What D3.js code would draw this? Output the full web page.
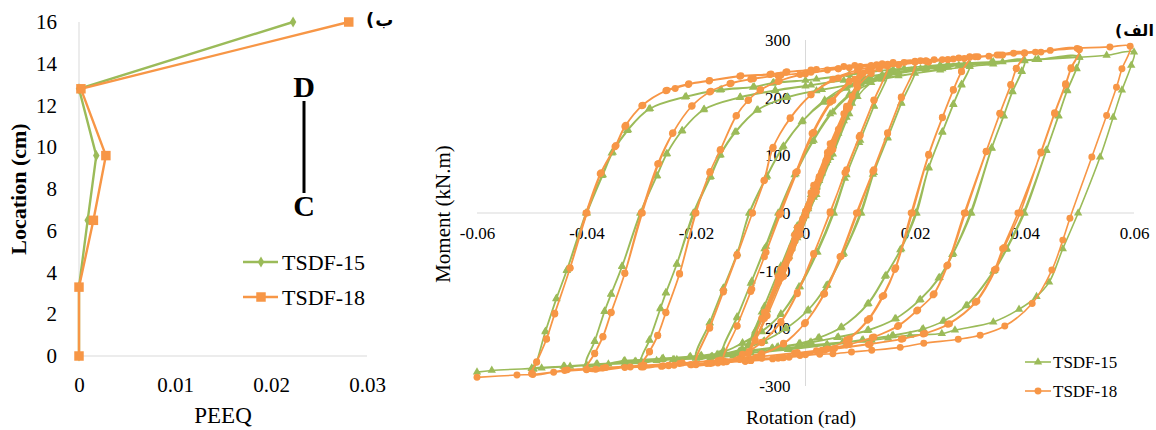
<!DOCTYPE html>
<html>
<head>
<meta charset="utf-8">
<title>PEEQ and hysteresis</title>
<style>
body { margin: 0; background: #fff; }
#chart { display: block; font-family: "Liberation Serif", "DejaVu Serif", "Times New Roman", serif; }
#chart text { font-family: "Liberation Serif", "DejaVu Serif", "Times New Roman", serif; fill: #000; }
.axisline { stroke: #d9d9d9; stroke-width: 1px; }
#chart text.arabic { font-family: "DejaVu Sans", sans-serif; font-weight: bold; }
</style>
</head>
<body>
<script src="https://cdn.jsdelivr.net/npm/d3@7"></script>
<svg id="chart" width="1156" height="430"></svg>
<script>
// ---- left panel: PEEQ along the link ----
const peeqLocation = [16, 12.8, 9.6, 6.5, 3.3, 0];
const peeq15 = [0.0223, 0, 0.0018, 0.0009, 0, 0];
const peeq18 = [0.0281, 0.0002, 0.0028, 0.0015, 0, 0];
const peeqTicks = [0, 0.01, 0.02, 0.03];
const peeqTickLabels = ['0', '0.01', '0.02', '0.03'];
const locationTicks = [0, 2, 4, 6, 8, 10, 12, 14, 16];

// ---- right panel: moment-rotation hysteresis ----
const rotTicks = [-0.06, -0.04, -0.02, 0, 0.02, 0.04, 0.06];
const rotTickLabels = ['-0.06', '-0.04', '-0.02', '0', '0.02', '0.04', '0.06'];
const momentTicks = [-300, -200, -100, 0, 100, 200, 300];
const momentTickLabels = ['-300', '-200', '-100', '0', '100', '200', '300'];
const seriesNames = ['TSDF-15', 'TSDF-18'];

// TSDF-15 [rotation (rad), moment (kN.m)]
const hyst15 = [
[0,0],[0.002,46],[0.00375,87],[0.002,44],[0,-3],[-0.002,-48],[-0.00375,-88],[-0.002,-45],[0,2],[0.002,47],[0.00375,88],[0.0015,34],[-0.001,-25],[-0.00375,-87],[-0.0015,-35],[0.0005,11],
[0.0025,60],[0.005,116],[0.0025,56],[0,-5],[-0.0025,-61],[-0.005,-115],[-0.0025,-57],[0,4],[0.0025,61],[0.005,117],[0.002,47],[-0.001,-26],[-0.005,-116],[-0.002,-46],[0.001,24],
[0.004,94],[0.0075,172],[0.0045,101],[0.0015,30],[-0.0015,-39],[-0.0045,-108],[-0.0075,-172],[-0.0045,-100],[-0.0015,-31],[0.0015,38],[0.0045,106],[0.0075,173],[0.004,91],[0.0005,7],[-0.003,-75],[-0.0075,-173],[-0.004,-93],[-0.0005,-9],
[0.003,69],[0.006,138],[0.0085,190],[0.01,224],[0.0075,166],[0.0045,96],[0.0015,27],[-0.0015,-43],[-0.0045,-110],[-0.0075,-172],[-0.0092,-205],[-0.0103,-226],[-0.0075,-162],[-0.0045,-92],[-0.0015,-22],[0.0015,46],[0.0045,113],[0.0075,174],[0.0093,208],[0.0105,230],[0.008,172],[0.005,102],[0.002,32],[-0.001,-38],[-0.004,-106],[-0.007,-168],[-0.0092,-208],[-0.0105,-230],[-0.008,-172],[-0.005,-103],[-0.002,-35],
[0.001,32],[0.004,98],[0.007,160],[0.0095,202],[0.012,226],[0.015,242],
[0.0125,185],[0.01,126],[0.0075,66],[0.0052,0],[0.0022,-68],[-0.001,-128],[-0.0045,-176],[-0.008,-206],[-0.0115,-226],[-0.015,-238],
[-0.0125,-180],[-0.01,-122],[-0.0075,-62],[-0.005,0],[-0.002,66],[0.0012,124],[0.0045,172],[0.008,206],[0.0115,228],[0.015,243],
[0.0125,186],[0.0098,122],[0.0072,60],[0.005,0],[0.002,-68],[-0.0012,-128],[-0.0045,-175],[-0.008,-205],[-0.0115,-225],[-0.015,-239],
[-0.0125,-182],[-0.0098,-118],[-0.0072,-58],[-0.0048,0],[-0.0018,68],[0.0015,126],[0.005,175],[0.009,210],[0.0135,232],[0.017,243],[0.02,250],
[0.0175,190],[0.015,130],[0.0125,70],[0.0102,0],[0.007,-70],[0.004,-125],[0.0005,-168],[-0.0035,-200],[-0.0075,-222],[-0.0115,-236],[-0.0155,-245],[-0.02,-251],
[-0.0175,-190],[-0.015,-130],[-0.0125,-70],[-0.0102,0],[-0.007,64],[-0.004,116],[-0.0005,160],[0.0035,196],[0.0075,220],[0.0115,235],[0.0155,244],[0.02,251],
[0.0175,191],[0.015,131],[0.0123,67],[0.01,0],[0.0068,-72],[0.0038,-126],[0.0003,-170],[-0.0037,-201],[-0.0077,-223],[-0.0117,-237],[-0.0157,-246],[-0.02,-252],
[-0.0175,-191],[-0.015,-131],[-0.0125,-71],[-0.0103,0],[-0.0072,62],[-0.0042,114],[-0.0007,158],[0.0033,192],[0.0075,216],[0.012,232],[0.017,242],[0.022,249],[0.026,253],[0.03,257],
[0.0285,222],[0.027,188],[0.025,140],[0.0225,78],[0.0203,0],[0.0175,-62],[0.0147,-108],[0.0115,-157],[0.0066,-198],[0.0025,-216],[-0.001,-226],[-0.006,-234],[-0.011,-240],[-0.016,-245],[-0.021,-249],[-0.026,-253],[-0.03,-257],
[-0.0285,-220],[-0.0265,-165],[-0.0255,-138],[-0.0235,-88],[-0.0205,0],[-0.0175,62],[-0.0157,100],[-0.0129,140],[-0.0089,178],[-0.0035,200],[0.002,212],[0.008,222],[0.014,232],[0.02,242],[0.025,250],[0.03,258],
[0.0285,223],[0.027,189],[0.025,141],[0.0225,79],[0.0201,0],[0.0173,-64],[0.0145,-110],[0.0113,-158],[0.0064,-199],[0.0023,-217],[-0.0012,-227],[-0.0062,-235],[-0.0112,-241],[-0.0162,-246],[-0.0212,-250],[-0.0262,-254],[-0.03,-258],
[-0.0285,-221],[-0.0265,-166],[-0.0255,-139],[-0.0235,-89],[-0.0203,0],[-0.0173,63],[-0.0155,101],[-0.0127,141],[-0.0087,179],[-0.0033,201],[0.003,214],[0.01,226],[0.017,238],[0.0246,248],[0.03,254],[0.0343,258],[0.04,264],
[0.0395,245],[0.0378,210],[0.0362,168],[0.034,112],[0.0303,0],[0.027,-70],[0.0245,-112],[0.021,-150],[0.0165,-183],[0.0115,-203],[0.006,-215],[0.001,-224],[-0.005,-232],[-0.012,-240],[-0.019,-247],[-0.026,-252],[-0.033,-256],[-0.04,-263],
[-0.0385,-222],[-0.0367,-170],[-0.0355,-140],[-0.0335,-92],[-0.0302,0],[-0.0272,64],[-0.0254,102],[-0.0226,142],[-0.0186,179],[-0.012,200],[-0.0056,212],[0,220],[0.007,230],[0.014,240],[0.021,250],[0.028,256],[0.034,260],[0.04,265],
[0.0395,246],[0.0378,211],[0.0362,169],[0.034,113],[0.0301,0],[0.0268,-72],[0.0243,-113],[0.0208,-151],[0.0163,-184],[0.0113,-204],[0.0058,-216],[0.0008,-225],[-0.0052,-233],[-0.0122,-241],[-0.0192,-248],[-0.0262,-253],[-0.0332,-257],[-0.04,-264],
[-0.0385,-223],[-0.0367,-171],[-0.0355,-141],[-0.0335,-93],[-0.0301,0],[-0.0271,65],[-0.0253,103],[-0.0225,143],[-0.0185,180],[-0.0119,201],[-0.0055,213],[0.001,222],[0.008,232],[0.015,242],[0.022,252],[0.029,257],[0.036,262],[0.0425,266],[0.05,270],
[0.0495,250],[0.0478,212],[0.0462,168],[0.044,108],[0.04,0],[0.0368,-62],[0.0345,-100],[0.0295,-160],[0.0253,-187],[0.0215,-201],[0.016,-212],[0.0105,-220],[0.004,-228],[-0.003,-236],[-0.01,-242],[-0.017,-249],[-0.024,-254],[-0.031,-257],[-0.038,-262],[-0.044,-266],[-0.05,-269],
[-0.0497,-270],[-0.0475,-205],[-0.0455,-148],[-0.0436,-99],[-0.0401,0],[-0.0372,65],[-0.0354,104],[-0.0326,143],[-0.0286,180],[-0.022,201],[-0.0156,213],[-0.0096,218],[-0.006,225],[0,230],[0.008,240],[0.016,249],[0.0246,257],[0.0343,262],[0.0425,266.5],[0.05,271],
[0.0495,251],[0.0478,213],[0.0462,169],[0.044,109],[0.0398,0],[0.0366,-63],[0.0343,-101],[0.0293,-161],[0.0251,-188],[0.0213,-202],[0.0158,-213],[0.0103,-221],[0.0038,-229],[-0.0032,-237],[-0.0102,-243],[-0.0172,-249],[-0.0242,-254],[-0.0312,-258],[-0.0382,-262],[-0.0442,-266],[-0.05,-270],
[-0.0497,-271],[-0.0475,-206],[-0.0455,-149],[-0.0436,-100],[-0.0399,0],[-0.037,66],[-0.0352,105],[-0.0324,144],[-0.0284,181],[-0.0218,202],[-0.0154,214],[-0.0094,219],[-0.0058,226],[0.002,232],[0.01,242],[0.018,251],[0.026,258],[0.034,262],[0.042,266],[0.05,270],[0.055,273.5],[0.06,279],
[0.0595,256],[0.0578,213],[0.0562,166],[0.0538,97],[0.0498,0],[0.047,-62],[0.0445,-120],[0.0422,-145],[0.039,-167],[0.0343,-189],[0.0273,-203],[0.0249,-209],[0.0191,-212],[0.0151,-217],[0.0121,-221],[0.0068,-224],[0,-230],[-0.0107,-244],[-0.0132,-248],[-0.0174,-251],[-0.0235,-254],[-0.0272,-256],[-0.033,-261],[-0.036,-262],[-0.043,-266],[-0.0482,-269],[-0.0573,-273],[-0.06,-276]
];

// TSDF-18 [rotation (rad), moment (kN.m)]
const hyst18 = [
[0,0],[0.002,48],[0.00375,90],[0.002,46],[0,-2],[-0.002,-50],[-0.00375,-91],[-0.002,-47],[0,1],[0.002,49],[0.00375,91],[0.0015,35],[-0.001,-26],[-0.00375,-90],[-0.0015,-37],[0.0005,12],
[0.0025,62],[0.005,121],[0.0025,58],[0,-4],[-0.0025,-63],[-0.005,-120],[-0.0025,-59],[0,3],[0.0025,63],[0.005,122],[0.002,49],[-0.001,-27],[-0.005,-121],[-0.002,-48],[0.001,25],
[0.004,98],[0.0075,180],[0.0045,106],[0.0015,32],[-0.0015,-40],[-0.0045,-112],[-0.0075,-180],[-0.0045,-105],[-0.0015,-33],[0.0015,40],[0.0045,111],[0.0075,181],[0.004,95],[0.0005,8],[-0.003,-78],[-0.0075,-181],[-0.004,-97],[-0.0005,-10],
[0.003,72],[0.006,145],[0.0085,202],[0.01,238],[0.0075,180],[0.0045,106],[0.0015,33],[-0.0015,-41],[-0.0045,-113],[-0.0075,-183],[-0.0092,-220],[-0.0103,-240],[-0.0075,-172],[-0.0045,-98],[-0.0015,-25],[0.0015,48],[0.0045,120],[0.0075,185],[0.0093,222],[0.0105,242],[0.008,183],[0.005,110],[0.002,37],[-0.001,-37],[-0.004,-110],[-0.007,-178],[-0.0092,-222],[-0.0105,-244],[-0.008,-183],[-0.005,-110],[-0.002,-38],
[0.001,35],[0.004,105],[0.007,172],[0.0095,218],[0.012,242],[0.015,255],
[0.0125,195],[0.01,135],[0.0075,75],[0.0045,2],[0.0015,-72],[-0.0015,-140],[-0.0045,-190],[-0.008,-225],[-0.0115,-246],[-0.015,-256],
[-0.0125,-196],[-0.01,-136],[-0.0075,-76],[-0.0048,-3],[-0.0018,70],[0.0012,138],[0.0045,192],[0.008,228],[0.0115,247],[0.015,257],
[0.0125,196],[0.0098,132],[0.0072,70],[0.0045,0],[0.0015,-70],[-0.0015,-138],[-0.0045,-188],[-0.008,-224],[-0.0115,-245],[-0.015,-257],
[-0.0125,-196],[-0.0098,-132],[-0.0072,-68],[-0.0045,0],[-0.0015,72],[0.0015,140],[0.005,195],[0.009,232],[0.0135,250],[0.017,257],[0.02,262],
[0.0175,200],[0.015,138],[0.0125,75],[0.0095,0],[0.0065,-75],[0.0035,-140],[0,-190],[-0.004,-226],[-0.008,-244],[-0.012,-253],[-0.016,-258],[-0.02,-262],
[-0.0175,-198],[-0.015,-135],[-0.0125,-72],[-0.0097,0],[-0.0075,57],[-0.0059,114],[-0.0028,164],[0.001,205],[0.005,232],[0.0095,248],[0.0145,256],[0.02,263],
[0.0175,201],[0.015,139],[0.0123,72],[0.0093,0],[0.0063,-76],[0.0033,-141],[-0.0002,-192],[-0.004,-227],[-0.008,-245],[-0.012,-254],[-0.016,-259],[-0.02,-263],
[-0.0175,-200],[-0.015,-137],[-0.0125,-74],[-0.0097,0],[-0.0076,56],[-0.006,112],[-0.0028,165],[0.001,205],[0.006,234],[0.012,250],[0.017,257],[0.0225,262],[0.026,266],[0.03,270],
[0.0285,245],[0.027,213],[0.025,165],[0.0225,100],[0.0195,0],[0.0165,-95],[0.0143,-143],[0.0117,-183],[0.008,-218],[0.004,-236],[0,-246],[-0.005,-252],[-0.01,-256],[-0.015,-259],[-0.02,-262],[-0.025,-264],[-0.03,-266],
[-0.0285,-240],[-0.027,-212],[-0.0255,-172],[-0.023,-105],[-0.0201,0],[-0.0175,70],[-0.0156,109],[-0.0127,168],[-0.0105,195],[-0.0083,213],[-0.005,228],[-0.001,240],[0.004,248],[0.01,254],[0.016,259],[0.022,263],[0.026,266],[0.03,271],
[0.0285,246],[0.027,214],[0.025,166],[0.0225,102],[0.0193,0],[0.0163,-98],[0.014,-145],[0.0113,-186],[0.0075,-220],[0.0035,-238],[-0.001,-247],[-0.006,-253],[-0.011,-257],[-0.016,-260],[-0.021,-263],[-0.026,-265],[-0.03,-267],
[-0.0285,-241],[-0.027,-213],[-0.0255,-173],[-0.023,-106],[-0.02,0],[-0.0174,72],[-0.0155,110],[-0.0126,169],[-0.0104,196],[-0.0082,214],[-0.0048,229],[0,241],[0.006,250],[0.012,256],[0.018,261],[0.025,266],[0.0315,271],[0.0355,274],[0.04,277],
[0.0385,250],[0.0375,222],[0.0355,172],[0.033,106],[0.0292,0],[0.026,-90],[0.0235,-140],[0.0205,-168],[0.017,-195],[0.0125,-215],[0.008,-228],[0.003,-238],[-0.003,-250],[-0.01,-256],[-0.017,-260],[-0.024,-264],[-0.032,-267],[-0.04,-271],
[-0.0385,-243],[-0.037,-214],[-0.0355,-172],[-0.033,-104],[-0.03,0],[-0.027,85],[-0.0243,138],[-0.0208,185],[-0.0175,210],[-0.0138,224],[-0.01,232],[-0.005,238],[0,243],[0.006,250],[0.013,257],[0.02,262],[0.027,267],[0.0335,272],[0.04,278],
[0.0385,251],[0.0375,223],[0.0355,173],[0.033,107],[0.029,0],[0.0258,-92],[0.0233,-142],[0.0203,-170],[0.0168,-197],[0.0122,-216],[0.0075,-229],[0.002,-239],[-0.004,-251],[-0.011,-257],[-0.018,-261],[-0.025,-265],[-0.033,-268],[-0.04,-272],
[-0.0385,-244],[-0.037,-215],[-0.0355,-173],[-0.033,-105],[-0.0298,0],[-0.0268,86],[-0.0242,139],[-0.0207,186],[-0.0173,211],[-0.0136,225],[-0.0095,233],[-0.0045,239],[0.001,244],[0.008,252],[0.015,258],[0.022,264],[0.029,268],[0.036,274],[0.043,279],[0.05,283],
[0.0485,250],[0.0475,222],[0.0455,172],[0.043,104],[0.0388,0],[0.036,-62],[0.0345,-99],[0.031,-155],[0.026,-193],[0.0215,-210],[0.0175,-219],[0.0115,-228],[0.005,-236],[-0.002,-243],[-0.009,-250],[-0.016,-256],[-0.023,-261],[-0.03,-265],[-0.037,-269],[-0.044,-273],[-0.05,-278],
[-0.0491,-258],[-0.0473,-218],[-0.0458,-174],[-0.043,-95],[-0.0401,0],[-0.0375,68],[-0.0348,115],[-0.033,150],[-0.0299,186],[-0.0255,212],[-0.0238,216],[-0.0214,223],[-0.0176,229],[-0.012,237],[-0.0065,240],[-0.0036,244],[0.001,248],[0.007,254],[0.014,259],[0.021,264],[0.028,269],[0.035,274],[0.042,279],[0.05,284],
[0.0485,252],[0.0475,224],[0.0455,174],[0.043,106],[0.0392,0],[0.0363,-60],[0.0348,-97],[0.0313,-153],[0.0263,-192],[0.0218,-209],[0.0178,-218],[0.0118,-227],[0.0053,-235],[-0.0015,-242],[-0.0085,-249],[-0.0155,-255],[-0.0225,-260],[-0.0295,-264],[-0.0365,-268],[-0.0435,-272],[-0.05,-279],
[-0.0491,-259],[-0.0473,-219],[-0.0458,-175],[-0.043,-96],[-0.0399,0],[-0.0373,70],[-0.0346,117],[-0.0328,152],[-0.0297,187],[-0.0253,213],[-0.0213,224],[-0.0175,230],[-0.0118,238],[-0.0063,241],[-0.0034,245],[0.002,249],[0.009,256],[0.016,261],[0.0235,266],[0.031,271],[0.038,277],[0.0447,282],[0.0496,285.5],[0.0556,288],[0.0593,289],
[0.0578,250],[0.0568,218],[0.055,169],[0.0523,97],[0.0483,-9],[0.047,-47],[0.045,-99],[0.0414,-157],[0.0364,-196],[0.0319,-212],[0.0279,-219],[0.0216,-226],[0.0173,-233],[0.0121,-238],[0.0084,-241],[0.005,-244],[0.0026,-245],[-0.0043,-251],[-0.008,-252],[-0.0144,-258],[-0.0174,-261],[-0.0208,-263],[-0.0263,-266],[-0.0296,-267],[-0.0383,-271],[-0.046,-276],[-0.0498,-280],[-0.0527,-281],[-0.06,-285]
];

const green = '#9bbb59';
const orange = '#f79646';
const serif = '"Liberation Serif", "DejaVu Serif", "Times New Roman", serif';

const svg = d3.select('#chart');

// Persian panel tag: bracket on the left of the word, as printed.
// Two separate texts, both anchored at their left edge, so bidi cannot swap them.
function panelTag(parent, word, leftX, y, size){
    const paren = parent.append('text').attr('class', 'arabic')
        .attr('x', leftX).attr('y', y)
        .style('font-size', size + 'px')
        .text('(');
    const w = paren.node().getComputedTextLength();
    const t = parent.append('text').attr('class', 'arabic')
        .attr('y', y)
        .style('font-size', size + 'px')
        .text(word);
    const bb = t.node().getBBox();
    t.attr('x', leftX + w + 1 - (bb.x - 0));
}

// ================= left panel =================
const xPeeq = d3.scaleLinear().domain([0, 0.03]).range([79, 367]);
const yLoc = d3.scaleLinear().domain([0, 16]).range([356, 22]);

const left = svg.append('g').attr('class', 'left');

left.append('line').attr('class', 'axisline')
    .attr('x1', xPeeq(0)).attr('x2', xPeeq(0)).attr('y1', yLoc(16)).attr('y2', yLoc(0));
left.append('line').attr('class', 'axisline')
    .attr('x1', xPeeq(0)).attr('x2', xPeeq(0.03)).attr('y1', yLoc(0)).attr('y2', yLoc(0));

left.append('g')
    .attr('class', 'ax-left')
    .attr('transform', `translate(${xPeeq(0)},0)`)
    .call(d3.axisLeft(yLoc).tickValues(locationTicks).tickSize(0).tickPadding(22))
    .call(g => g.select('.domain').remove());

left.append('g')
    .attr('class', 'ax-left')
    .attr('transform', `translate(0,${yLoc(0)})`)
    .call(d3.axisBottom(xPeeq).tickValues(peeqTicks).tickFormat((d, i) => peeqTickLabels[i]).tickSize(0).tickPadding(21))
    .call(g => g.select('.domain').remove());

left.append('text')
    .attr('x', 223).attr('y', 423)
    .attr('text-anchor', 'middle')
    .style('font-size', '23px')
    .text('PEEQ');

left.append('text')
    .attr('transform', 'translate(26,189) rotate(-90)')
    .attr('text-anchor', 'middle')
    .style('font-size', '22px')
    .style('font-weight', 'bold')
    .text('Location (cm)');

const peeqLine = d3.line().x(d => xPeeq(d[0])).y(d => yLoc(d[1]));
const peeqSeries = [
    {name: seriesNames[0], color: green, pts: peeq15.map((v, i) => [v, peeqLocation[i]]), symbol: d3.symbolDiamond, size: 36},
    {name: seriesNames[1], color: orange, pts: peeq18.map((v, i) => [v, peeqLocation[i]]), symbol: d3.symbolSquare, size: 90}
];

for (const s of peeqSeries){
    left.append('path')
        .attr('d', peeqLine(s.pts))
        .attr('fill', 'none')
        .attr('stroke', s.color)
        .attr('stroke-width', 2.4);
    left.selectAll(null).data(s.pts).enter()
        .append('path')
        .attr('transform', d => `translate(${xPeeq(d[0])},${yLoc(d[1])})`)
        .attr('d', d3.symbol(s.symbol, s.size))
        .attr('fill', s.color);
}

// legend
peeqSeries.forEach((s, i) => {
    const ly = 262 + i * 35;
    left.append('line')
        .attr('x1', 243).attr('x2', 278).attr('y1', ly).attr('y2', ly)
        .attr('stroke', s.color).attr('stroke-width', 2.4);
    left.append('path')
        .attr('transform', `translate(261,${ly})`)
        .attr('d', d3.symbol(s.symbol, s.size))
        .attr('fill', s.color);
    left.append('text')
        .attr('x', 282).attr('y', ly + 8)
        .style('font-size', '22px')
        .text(s.name);
});

// D-C marker
left.append('text').attr('x', 304).attr('y', 97).attr('text-anchor', 'middle')
    .style('font-size', '30px').style('font-weight', 'bold').text('D');
left.append('line').attr('x1', 304).attr('x2', 304).attr('y1', 101).attr('y2', 193)
    .attr('stroke', '#000').attr('stroke-width', 3);
left.append('text').attr('x', 304).attr('y', 216).attr('text-anchor', 'middle')
    .style('font-size', '30px').style('font-weight', 'bold').text('C');

// ================= right panel =================
const xRot = d3.scaleLinear().domain([-0.06, 0.06]).range([477, 1134]);
const yMom = d3.scaleLinear().domain([-300, 300]).range([386, 40]);

const right = svg.append('g').attr('class', 'right');

right.append('line').attr('class', 'axisline')
    .attr('x1', xRot(-0.06)).attr('x2', xRot(0.06)).attr('y1', yMom(0)).attr('y2', yMom(0));
right.append('line').attr('class', 'axisline')
    .attr('x1', xRot(0)).attr('x2', xRot(0)).attr('y1', yMom(300)).attr('y2', yMom(-300));

right.append('g')
    .attr('class', 'ax-right')
    .attr('transform', `translate(0,${yMom(0)})`)
    .call(d3.axisBottom(xRot).tickValues(rotTicks).tickFormat((d, i) => rotTickLabels[i]).tickSize(0).tickPadding(14))
    .call(g => g.select('.domain').remove());

right.append('g')
    .attr('class', 'ax-right')
    .attr('transform', `translate(${xRot(0)},0)`)
    .call(d3.axisLeft(yMom).tickValues(momentTicks).tickFormat((d, i) => momentTickLabels[i]).tickSize(0).tickPadding(15))
    .call(g => g.select('.domain').remove());

right.append('text')
    .attr('transform', 'translate(450,214) rotate(-90)')
    .attr('text-anchor', 'middle')
    .style('font-size', '21px')
    .text('Moment (kN.m)');

right.append('text')
    .attr('x', 801).attr('y', 424)
    .attr('text-anchor', 'middle')
    .style('font-size', '19.5px')
    .text('Rotation (rad)');

const hystLine = d3.line()
    .x(d => xRot(d[0]))
    .y(d => yMom(d[1]))
    .curve(d3.curveCatmullRom.alpha(0.5));

const hystSeries = [
    {name: seriesNames[0], color: green, pts: hyst15, symbol: d3.symbolTriangle, size: 30},
    {name: seriesNames[1], color: orange, pts: hyst18, symbol: d3.symbolCircle, size: 38}
];

for (const s of hystSeries){
    const g = right.append('g');
    g.append('path')
        .attr('d', hystLine(s.pts))
        .attr('fill', 'none')
        .attr('stroke', s.color)
        .attr('stroke-width', 1.6);
    g.selectAll(null).data(s.pts).enter()
        .append('path')
        .attr('transform', d => `translate(${xRot(d[0])},${yMom(d[1])})`)
        .attr('d', d3.symbol(s.symbol, s.size))
        .attr('fill', s.color);
}

hystSeries.forEach((s, i) => {
    const ly = 362 + i * 29;
    right.append('line')
        .attr('x1', 1025).attr('x2', 1051).attr('y1', ly).attr('y2', ly)
        .attr('stroke', s.color).attr('stroke-width', 1.6);
    right.append('path')
        .attr('transform', `translate(1038,${ly})`)
        .attr('d', d3.symbol(s.symbol, s.size))
        .attr('fill', s.color);
    right.append('text')
        .attr('x', 1053).attr('y', ly + 6)
        .style('font-size', '17px')
        .text(s.name);
});

// every label in a serif face, set inline so the axis defaults do not win
svg.selectAll('text').style('font-family', serif);
svg.selectAll('.ax-left .tick text').style('font-size', '21px');
svg.selectAll('.ax-right .tick text').style('font-size', '17px');

// panel tags need an Arabic-capable face
function arabicFace(){
    svg.selectAll('text.arabic').style('font-family', '"DejaVu Sans", sans-serif');
}
const tagLeft = left.append('g');
const tagRight = right.append('g');
tagLeft.append('text').attr('class', 'arabic').style('font-family', '"DejaVu Sans", sans-serif');
panelTag(tagLeft, 'ب', 366, 26, 18);
panelTag(tagRight, 'الف', 1115, 36, 16);
arabicFace();
</script>
</body>
</html>
